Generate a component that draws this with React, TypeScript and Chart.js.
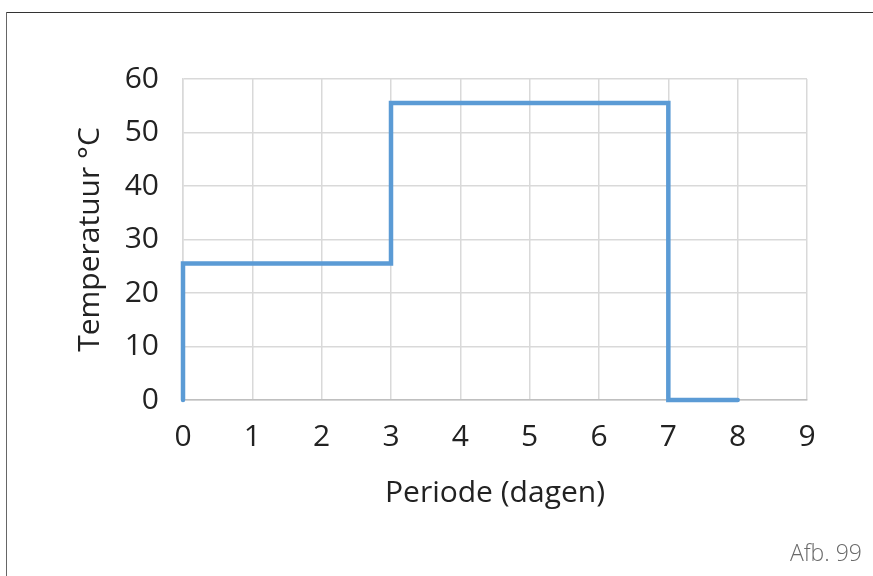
import React, { useEffect, useRef } from "react";
import { Chart, registerables } from "chart.js";

Chart.register(...registerables);

const periodDays = [0, 0, 3, 3, 7, 7, 8];
const temperatures = [0, 25.5, 25.5, 55.5, 55.5, 0, 0];
const xAxisTitle = "Periode (dagen)";
const yAxisTitle = "Temperatuur °C";
const figureLabel = "Afb. 99";
const xRange = [0, 9];
const yRange = [0, 60];

const FONT = "'Open Sans', 'Noto Sans', sans-serif";

export default function App() {
  const canvasRef = useRef<HTMLCanvasElement | null>(null);

  useEffect(() => {
    document.body.style.margin = "0";
    const canvas = canvasRef.current;
    if (!canvas) return;
    const chart = new Chart(canvas, {
      type: "line",
      data: {
        datasets: [
          {
            data: periodDays.map((x, i) => ({ x, y: temperatures[i] })),
            borderColor: "#5b9bd5",
            borderWidth: 4.5,
            pointRadius: 0,
            fill: false,
            tension: 0,
            clip: false,
            borderJoinStyle: "miter",
            borderCapStyle: "round",
          },
        ],
      },
      options: {
        animation: false,
        responsive: false,
        maintainAspectRatio: false,
        layout: { padding: { top: 79, right: 66, bottom: 0, left: 0 } },
        plugins: { legend: { display: false }, tooltip: { enabled: false } },
        scales: {
          x: {
            type: "linear",
            min: xRange[0],
            max: xRange[1],
            afterFit: (s: any) => {
              s.height = 176;
            },
            ticks: {
              stepSize: 1,
              color: "#222",
              padding: 19,
              font: { family: FONT, size: 30, lineHeight: 1.2 },
            },
            grid: { color: "#d9d9d9", lineWidth: 1.5, drawTicks: false },
            border: { color: "#bfbfbf", width: 1.5 },
            title: {
              display: true,
              text: xAxisTitle,
              color: "#222",
              font: { family: FONT, size: 30, lineHeight: 1.2 },
              padding: { top: 0, bottom: 65 },
            },
          },
          y: {
            type: "linear",
            min: yRange[0],
            max: yRange[1],
            afterFit: (s: any) => {
              s.width = 183;
            },
            ticks: {
              stepSize: 10,
              color: "#222",
              padding: 24,
              font: { family: FONT, size: 30, lineHeight: 1.2 },
            },
            grid: { color: "#d9d9d9", lineWidth: 1.5, drawTicks: false },
            border: { color: "#d9d9d9", width: 1.5 },
            title: {
              display: true,
              text: yAxisTitle,
              color: "#222",
              font: { family: FONT, size: 30, lineHeight: 1.2 },
              padding: { top: 72, bottom: 0 },
            },
          },
        },
      },
    });
    return () => chart.destroy();
  }, []);

  return (
    <div
      style={{
        position: "relative",
        width: 873,
        height: 576,
        overflow: "hidden",
        background: "#fff",
      }}
    >
      <canvas ref={canvasRef} width={873} height={576} style={{ display: "block" }} />
      <div
        style={{
          position: "absolute",
          left: 7,
          top: 12,
          right: 0,
          height: 0,
          borderTop: "1.5px solid #333",
        }}
      />
      <div
        style={{
          position: "absolute",
          left: 6,
          top: 12,
          bottom: 0,
          width: 0,
          borderLeft: "1.5px solid #666",
        }}
      />
      <div
        style={{
          position: "absolute",
          right: 11,
          top: 536,
          fontFamily: FONT,
          fontSize: 23,
          fontWeight: 300,
          color: "#6a6a6a",
          whiteSpace: "nowrap",
        }}
      >
        {figureLabel}
      </div>
    </div>
  );
}
